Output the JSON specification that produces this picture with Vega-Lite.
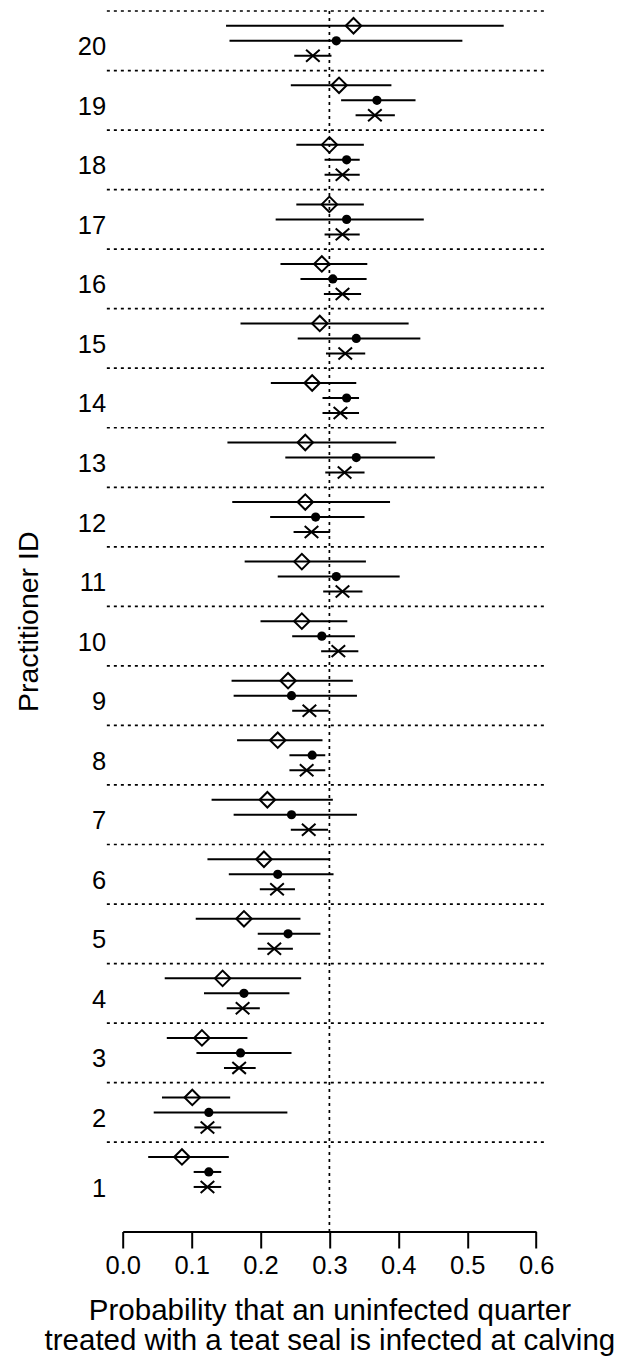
{
  "$schema": "https://vega.github.io/schema/vega-lite/v6.json",
  "autosize": "none",
  "width": 413.4,
  "height": 1220.5,
  "padding": {"left": 122.7, "top": 11, "right": 80.9, "bottom": 128.5},
  "background": "white",
  "config": {"view": {"stroke": null}, "font": "Liberation Sans"},
  "data": {"values": [
    {"id": 20, "type": "A", "est": 0.335, "lo": 0.150, "hi": 0.553},
    {"id": 20, "type": "B", "est": 0.310, "lo": 0.155, "hi": 0.493},
    {"id": 20, "type": "C", "est": 0.276, "lo": 0.249, "hi": 0.303},
    {"id": 19, "type": "A", "est": 0.314, "lo": 0.244, "hi": 0.390},
    {"id": 19, "type": "B", "est": 0.369, "lo": 0.317, "hi": 0.425},
    {"id": 19, "type": "C", "est": 0.366, "lo": 0.338, "hi": 0.395},
    {"id": 18, "type": "A", "est": 0.300, "lo": 0.252, "hi": 0.350},
    {"id": 18, "type": "B", "est": 0.325, "lo": 0.293, "hi": 0.344},
    {"id": 18, "type": "C", "est": 0.319, "lo": 0.293, "hi": 0.344},
    {"id": 17, "type": "A", "est": 0.300, "lo": 0.252, "hi": 0.350},
    {"id": 17, "type": "B", "est": 0.325, "lo": 0.222, "hi": 0.437},
    {"id": 17, "type": "C", "est": 0.319, "lo": 0.293, "hi": 0.344},
    {"id": 16, "type": "A", "est": 0.289, "lo": 0.229, "hi": 0.355},
    {"id": 16, "type": "B", "est": 0.305, "lo": 0.258, "hi": 0.354},
    {"id": 16, "type": "C", "est": 0.319, "lo": 0.292, "hi": 0.346},
    {"id": 15, "type": "A", "est": 0.286, "lo": 0.171, "hi": 0.415},
    {"id": 15, "type": "B", "est": 0.339, "lo": 0.254, "hi": 0.432},
    {"id": 15, "type": "C", "est": 0.323, "lo": 0.295, "hi": 0.352},
    {"id": 14, "type": "A", "est": 0.275, "lo": 0.215, "hi": 0.339},
    {"id": 14, "type": "B", "est": 0.325, "lo": 0.290, "hi": 0.343},
    {"id": 14, "type": "C", "est": 0.316, "lo": 0.290, "hi": 0.343},
    {"id": 13, "type": "A", "est": 0.265, "lo": 0.152, "hi": 0.397},
    {"id": 13, "type": "B", "est": 0.339, "lo": 0.236, "hi": 0.453},
    {"id": 13, "type": "C", "est": 0.322, "lo": 0.294, "hi": 0.351},
    {"id": 12, "type": "A", "est": 0.265, "lo": 0.159, "hi": 0.388},
    {"id": 12, "type": "B", "est": 0.280, "lo": 0.214, "hi": 0.351},
    {"id": 12, "type": "C", "est": 0.274, "lo": 0.248, "hi": 0.301},
    {"id": 11, "type": "A", "est": 0.260, "lo": 0.177, "hi": 0.353},
    {"id": 11, "type": "B", "est": 0.310, "lo": 0.225, "hi": 0.402},
    {"id": 11, "type": "C", "est": 0.319, "lo": 0.291, "hi": 0.348},
    {"id": 10, "type": "A", "est": 0.260, "lo": 0.200, "hi": 0.326},
    {"id": 10, "type": "B", "est": 0.289, "lo": 0.246, "hi": 0.337},
    {"id": 10, "type": "C", "est": 0.313, "lo": 0.288, "hi": 0.342},
    {"id": 9, "type": "A", "est": 0.240, "lo": 0.158, "hi": 0.334},
    {"id": 9, "type": "B", "est": 0.245, "lo": 0.161, "hi": 0.340},
    {"id": 9, "type": "C", "est": 0.271, "lo": 0.246, "hi": 0.299},
    {"id": 8, "type": "A", "est": 0.225, "lo": 0.166, "hi": 0.290},
    {"id": 8, "type": "B", "est": 0.275, "lo": 0.242, "hi": 0.294},
    {"id": 8, "type": "C", "est": 0.267, "lo": 0.242, "hi": 0.294},
    {"id": 7, "type": "A", "est": 0.210, "lo": 0.129, "hi": 0.305},
    {"id": 7, "type": "B", "est": 0.245, "lo": 0.161, "hi": 0.340},
    {"id": 7, "type": "C", "est": 0.270, "lo": 0.244, "hi": 0.298},
    {"id": 6, "type": "A", "est": 0.205, "lo": 0.123, "hi": 0.301},
    {"id": 6, "type": "B", "est": 0.225, "lo": 0.154, "hi": 0.306},
    {"id": 6, "type": "C", "est": 0.224, "lo": 0.199, "hi": 0.250},
    {"id": 5, "type": "A", "est": 0.176, "lo": 0.106, "hi": 0.258},
    {"id": 5, "type": "B", "est": 0.240, "lo": 0.196, "hi": 0.287},
    {"id": 5, "type": "C", "est": 0.220, "lo": 0.196, "hi": 0.247},
    {"id": 4, "type": "A", "est": 0.145, "lo": 0.061, "hi": 0.259},
    {"id": 4, "type": "B", "est": 0.176, "lo": 0.118, "hi": 0.242},
    {"id": 4, "type": "C", "est": 0.174, "lo": 0.151, "hi": 0.199},
    {"id": 3, "type": "A", "est": 0.115, "lo": 0.064, "hi": 0.181},
    {"id": 3, "type": "B", "est": 0.171, "lo": 0.107, "hi": 0.245},
    {"id": 3, "type": "C", "est": 0.169, "lo": 0.147, "hi": 0.193},
    {"id": 2, "type": "A", "est": 0.101, "lo": 0.057, "hi": 0.156},
    {"id": 2, "type": "B", "est": 0.125, "lo": 0.045, "hi": 0.239},
    {"id": 2, "type": "C", "est": 0.123, "lo": 0.104, "hi": 0.143},
    {"id": 1, "type": "A", "est": 0.086, "lo": 0.037, "hi": 0.154},
    {"id": 1, "type": "B", "est": 0.125, "lo": 0.103, "hi": 0.143},
    {"id": 1, "type": "C", "est": 0.123, "lo": 0.103, "hi": 0.143}
  ]},
  "encoding": {
    "y": {
      "field": "id", "type": "quantitative",
      "scale": {"domain": [0, 20.5], "nice": false, "zero": false},
      "axis": {
        "values": [1,2,3,4,5,6,7,8,9,10,11,12,13,14,15,16,17,18,19,20],
        "ticks": false, "domain": false, "grid": false,
        "labelFontSize": 25.5, "labelColor": "black", "labelPadding": 17,
        "labelBaseline": "middle", "labelOverlap": false,
        "labelOffset": {"condition": {"test": "datum.value === 1", "value": 16.5}, "value": 6},
        "title": "Practitioner ID", "titleFontSize": 28.5, "titleFontWeight": "normal",
        "titleColor": "black", "titlePadding": 34
      }
    }
  },
  "layer": [
    {
      "transform": [{"filter": "datum.type === 'B'"}],
      "mark": {"type": "rule", "yOffset": -29.77, "strokeDash": [3, 4], "strokeWidth": 1.7, "color": "black"},
      "encoding": {"x": {"datum": -0.023, "type": "quantitative"}, "x2": {"datum": 0.617}}
    },
    {
      "data": {"values": [{"ref": 0.3}]},
      "mark": {"type": "rule", "strokeDash": [3, 4], "strokeWidth": 1.7, "color": "black"},
      "encoding": {
        "y": null,
        "x": {
          "field": "ref", "type": "quantitative",
          "scale": {"domain": [0, 0.6], "nice": false, "zero": false},
          "axis": {
            "values": [0, 0.1, 0.2, 0.3, 0.4, 0.5, 0.6], "format": ".1f",
            "grid": false, "domainColor": "black", "domainWidth": 2,
            "tickColor": "black", "tickWidth": 2, "tickSize": 16.5,
            "labelFontSize": 25.5, "labelColor": "black", "labelPadding": 5,
            "labelFlush": false, "labelOverlap": false,
            "title": ["Probability that an uninfected quarter", "treated with a teat seal is infected at calving"],
            "titleFontSize": 29.5, "titleFontWeight": "normal", "titleColor": "black",
            "titleLineHeight": 30, "titlePadding": 18
          }
        }
      }
    },
    {
      "transform": [{"filter": "datum.type === 'A'"}],
      "mark": {"type": "rule", "yOffset": -15, "strokeWidth": 2, "color": "black"},
      "encoding": {"x": {"field": "lo", "type": "quantitative"}, "x2": {"field": "hi"}}
    },
    {
      "transform": [{"filter": "datum.type === 'B'"}],
      "mark": {"type": "rule", "yOffset": 0, "strokeWidth": 2, "color": "black"},
      "encoding": {"x": {"field": "lo", "type": "quantitative"}, "x2": {"field": "hi"}}
    },
    {
      "transform": [{"filter": "datum.type === 'C'"}],
      "mark": {"type": "rule", "yOffset": 15, "strokeWidth": 2, "color": "black"},
      "encoding": {"x": {"field": "lo", "type": "quantitative"}, "x2": {"field": "hi"}}
    },
    {
      "transform": [{"filter": "datum.type === 'A'"}],
      "mark": {"type": "point", "shape": "diamond", "size": 240, "filled": false, "strokeWidth": 2, "color": "black", "opacity": 1, "yOffset": -15},
      "encoding": {"x": {"field": "est", "type": "quantitative"}}
    },
    {
      "transform": [{"filter": "datum.type === 'B'"}],
      "mark": {"type": "point", "shape": "circle", "size": 85, "filled": true, "color": "black", "opacity": 1},
      "encoding": {"x": {"field": "est", "type": "quantitative"}}
    },
    {
      "transform": [{"filter": "datum.type === 'C'"}],
      "mark": {"type": "point", "shape": "M-1,-0.88L1,0.88M-1,0.88L1,-0.88", "size": 185, "filled": false, "strokeWidth": 2, "color": "black", "opacity": 1, "yOffset": 15},
      "encoding": {"x": {"field": "est", "type": "quantitative"}}
    }
  ]
}
